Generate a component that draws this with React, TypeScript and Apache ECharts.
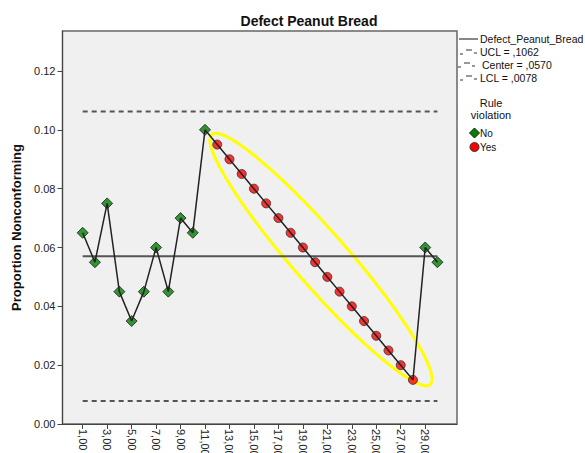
import React, { useEffect, useRef } from "react";
import * as echarts from "echarts";

const FONT = "'Liberation Sans', Arial, sans-serif";

const samples = [1, 2, 3, 4, 5, 6, 7, 8, 9, 10, 11, 12, 13, 14, 15, 16, 17, 18, 19, 20, 21, 22, 23, 24, 25, 26, 27, 28, 29, 30];
const proportions = [
  0.065, 0.055, 0.075, 0.045, 0.035, 0.045, 0.06, 0.045, 0.07, 0.065,
  0.1, 0.095, 0.09, 0.085, 0.08, 0.075, 0.07, 0.065, 0.06, 0.055,
  0.05, 0.045, 0.04, 0.035, 0.03, 0.025, 0.02, 0.015, 0.06, 0.055,
];
const ruleViolation = [
  0, 0, 0, 0, 0, 0, 0, 0, 0, 0,
  0, 1, 1, 1, 1, 1, 1, 1, 1, 1,
  1, 1, 1, 1, 1, 1, 1, 1, 0, 0,
];
const UCL = 0.1062;
const CENTER = 0.057;
const LCL = 0.0078;
const xTickValues = [1, 3, 5, 7, 9, 11, 13, 15, 17, 19, 21, 23, 25, 27, 29];
const yTickValues = [0, 0.02, 0.04, 0.06, 0.08, 0.1, 0.12];
const legendLabels = ["Defect_Peanut_Bread", "UCL = ,1062", "Center = ,0570", "LCL = ,0078"];

export default function App() {
  const ref = useRef<HTMLDivElement>(null);
  useEffect(() => {
    if (!ref.current) return;
    const chart = echarts.init(ref.current, null, { renderer: "svg" });
    const line = samples.map((s, i) => [s, proportions[i]]);
    const noPts = samples.map((s, i) => [s, proportions[i], ruleViolation[i]]).filter((d) => !d[2]).map((d) => [d[0], d[1]]);
    const yesPts = samples.map((s, i) => [s, proportions[i], ruleViolation[i]]).filter((d) => d[2]).map((d) => [d[0], d[1]]);
    const first = samples[0];
    const last = samples[samples.length - 1];

    const dashSym = (y: number, x0: number) => [
      { type: "line", shape: { x1: x0, y1: y + 2, x2: x0 + 3, y2: y + 2 }, style: { stroke: "#333", lineWidth: 1 } },
      { type: "line", shape: { x1: x0 + 6, y1: y - 2, x2: x0 + 12, y2: y - 2 }, style: { stroke: "#333", lineWidth: 1 } },
      { type: "line", shape: { x1: x0 + 14, y1: y + 1, x2: x0 + 17, y2: y + 1 }, style: { stroke: "#333", lineWidth: 1 } },
    ];
    const legendYs = [39, 52, 65, 78];
    const legendText = legendLabels.map((t, i) => ({
      type: "text",
      x: i === 2 ? 482 : 480,
      y: legendYs[i],
      style: { text: t, fill: "#111", font: `10.5px ${FONT}`, textVerticalAlign: "middle" },
    }));

    chart.setOption({
      animation: false,
      backgroundColor: "#ffffff",
      textStyle: { fontFamily: FONT },
      title: {
        text: "Defect Peanut Bread",
        left: 304,
        textAlign: "center",
        top: 9,
        textStyle: { fontSize: 14, fontWeight: "bold", color: "#111", fontFamily: FONT },
      },
      grid: {
        left: 62.5,
        right: 128,
        top: 31,
        bottom: 29,
        outerBoundsMode: "none",
        containLabel: false,
        show: true,
        backgroundColor: "#f0f0f0",
        borderColor: "#666",
        borderWidth: 1.5,
      },
      xAxis: {
        type: "value",
        min: -0.65,
        max: 31.6,
        axisLine: { show: true, onZero: false, lineStyle: { color: "#444", width: 1 } },
        axisTick: { show: true, length: 5, customValues: xTickValues, lineStyle: { color: "#444" } },
        axisLabel: {
          customValues: xTickValues,
          rotate: -90,
          margin: 5,
          fontSize: 11,
          color: "#222",
          fontFamily: FONT,
          formatter: (v: number) => v.toFixed(2).replace(".", ","),
        },
        splitLine: { show: false },
      },
      yAxis: {
        type: "value",
        min: 0,
        max: 0.1336,
        name: "Proportion Nonconforming",
        nameLocation: "middle",
        nameGap: 38,
        nameTextStyle: { fontSize: 13, fontWeight: "bold", color: "#111", fontFamily: FONT },
        axisLine: { show: true, onZero: false, lineStyle: { color: "#444", width: 1 } },
        axisTick: { show: true, length: 5, customValues: yTickValues, lineStyle: { color: "#444" } },
        axisLabel: {
          customValues: yTickValues,
          margin: 7,
          fontSize: 11,
          color: "#222",
          fontFamily: FONT,
          formatter: (v: number) => v.toFixed(2),
        },
        splitLine: { show: false },
      },
      series: [
        {
          name: "UCL",
          type: "line",
          data: [[first, UCL], [last, UCL]],
          symbol: "none",
          lineStyle: { color: "#555", width: 2, type: [5, 4] },
        },
        {
          name: "Center",
          type: "line",
          data: [[first, CENTER], [last, CENTER]],
          symbol: "none",
          lineStyle: { color: "#555", width: 2 },
        },
        {
          name: "LCL",
          type: "line",
          data: [[first, LCL], [last, LCL]],
          symbol: "none",
          lineStyle: { color: "#555", width: 2, type: [5, 4] },
        },
        {
          name: "Defect_Peanut_Bread",
          type: "line",
          data: line,
          symbol: "none",
          lineStyle: { color: "#222", width: 1.5 },
        },
        {
          name: "No",
          type: "scatter",
          data: noPts,
          symbol: "diamond",
          symbolSize: 11,
          itemStyle: { color: "#008000", borderColor: "#1a1a1a", borderWidth: 1 },
        },
        {
          name: "Yes",
          type: "scatter",
          data: yesPts,
          symbol: "circle",
          symbolSize: 9,
          itemStyle: { color: "#ff0000", borderColor: "#333", borderWidth: 1 },
        },
      ],
      graphic: [
        {
          type: "ellipse",
          x: 321,
          y: 259.5,
          rotation: -0.852,
          shape: { cx: 0, cy: 0, rx: 166, ry: 27 },
          style: { fill: "none", stroke: "#ffff00", lineWidth: 3 },
          silent: true,
        },
        { type: "line", shape: { x1: 459, y1: 39, x2: 478, y2: 39 }, style: { stroke: "#111", lineWidth: 1 } },
        ...dashSym(52, 460),
        ...dashSym(65, 458),
        ...dashSym(78, 460),
        ...legendText,
        {
          type: "text",
          x: 491,
          y: 103,
          style: { text: "Rule", fill: "#111", font: `11px ${FONT}`, textAlign: "center", textVerticalAlign: "middle" },
        },
        {
          type: "text",
          x: 491,
          y: 115,
          style: { text: "violation", fill: "#111", font: `11px ${FONT}`, textAlign: "center", textVerticalAlign: "middle" },
        },
        {
          type: "polygon",
          shape: { points: [[474.5, 128], [479.5, 133], [474.5, 138], [469.5, 133]] },
          style: { fill: "#008000", stroke: "#1a1a1a", lineWidth: 1 },
        },
        {
          type: "text",
          x: 480,
          y: 133,
          style: { text: "No", fill: "#111", font: `10px ${FONT}`, textVerticalAlign: "middle" },
        },
        {
          type: "circle",
          shape: { cx: 474.5, cy: 147, r: 4.5 },
          style: { fill: "#ff0000", stroke: "#333", lineWidth: 1 },
        },
        {
          type: "text",
          x: 480,
          y: 147,
          style: { text: "Yes", fill: "#111", font: `10px ${FONT}`, textVerticalAlign: "middle" },
        },
      ],
    });
    return () => chart.dispose();
  }, []);
  return <div ref={ref} style={{ position: "fixed", left: 0, top: 0, width: 585, height: 453 }} />;
}
